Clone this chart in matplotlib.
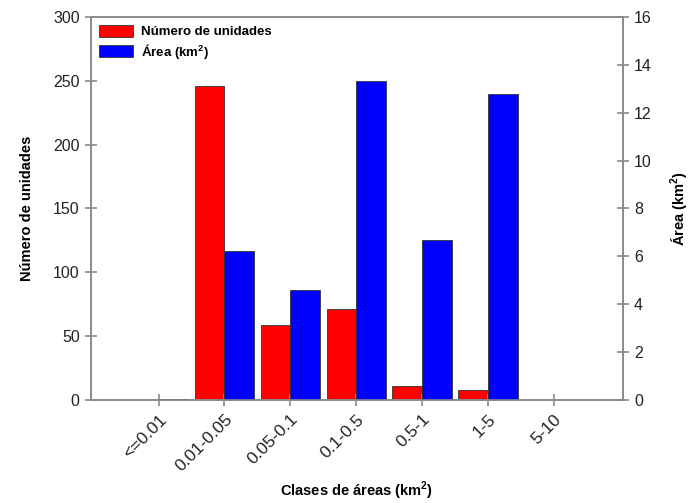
import numpy as np
import matplotlib
matplotlib.use('Agg')
import matplotlib.pyplot as plt

plt.rcParams['font.family'] = ['Liberation Sans', 'DejaVu Sans']
plt.rcParams['mathtext.fontset'] = 'custom'
plt.rcParams['mathtext.rm'] = 'Liberation Sans'
plt.rcParams['mathtext.bf'] = 'Liberation Sans:bold'

# datos
clases = ['<=0.01', '0.01-0.05', '0.05-0.1', '0.1-0.5', '0.5-1', '1-5', '5-10']
num_unidades = [0, 246, 59, 71, 11, 8, 0]
area_km2 = [0.04, 6.24, 4.6, 13.31, 6.7, 12.78, 0]

gris = '#8a8a8a'
x = np.arange(len(clases))
ancho = 0.45

fig = plt.figure(figsize=(6.93, 5.03), dpi=100)
ax = fig.add_axes([0.131, 0.205, 0.768, 0.761])
ax2 = ax.twinx()

b1 = ax.bar(x - ancho / 2, num_unidades, ancho, color='#ff0000', edgecolor='#333333', linewidth=0.6,
            label='Número de unidades')
b2 = ax2.bar(x + ancho / 2, area_km2, ancho, color='#0000ff', edgecolor='#333333', linewidth=0.6,
             label=r'Área (km$^\mathbf{2}$)')

ax.set_xlim(-1.03, 7.05)
ax.set_ylim(0, 300)
ax2.set_ylim(0, 16)
ax.set_yticks(range(0, 301, 50))
ax2.set_yticks(range(0, 17, 2))
ax.set_xticks(x)
ax.set_xticklabels(clases, rotation=45, ha='right', rotation_mode='anchor')

for a in (ax, ax2):
    for s in a.spines.values():
        s.set_color(gris)
        s.set_linewidth(1.2)
    a.tick_params(direction='inout', length=9, width=1.2, color=gris, labelsize=11.5, labelcolor='#222222')
ax.tick_params(axis='x', labelsize=12.5, pad=4)

ax.set_xlabel(r'Clases de áreas (km$^\mathbf{2}$)', fontsize=10.5, fontweight='bold', labelpad=4)
ax.set_ylabel('Número de unidades', fontsize=10.5, fontweight='bold', labelpad=14)
ax2.set_ylabel(r'Área (km$^\mathbf{2}$)', fontsize=10.5, fontweight='bold', labelpad=12)

leg = ax.legend([b1, b2], ['Número de unidades', r'Área (km$^\mathbf{2}$)'], loc='upper left',
                frameon=False, prop={'weight': 'bold', 'size': 9.5}, handlelength=2.6, handleheight=1.0,
                borderaxespad=0.2, labelspacing=0.25, handletextpad=0.6)

fig.savefig('out.png', dpi=100)
